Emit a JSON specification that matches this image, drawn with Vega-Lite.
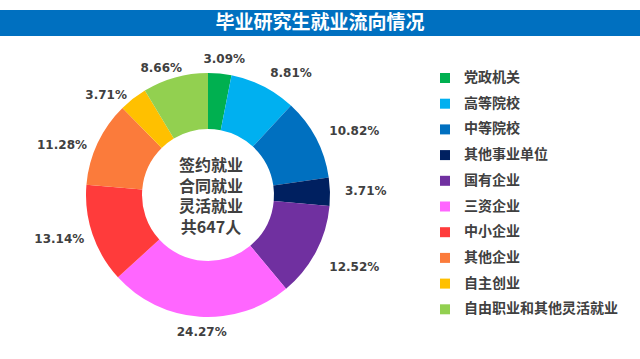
{
  "$schema": "https://vega.github.io/schema/vega-lite/v6.json",
  "padding": {"top": 10, "left": 0, "right": 0, "bottom": 0},
  "background": "white",
  "spacing": 0,
  "config": {"view": {"stroke": null}, "concat": {"spacing": 0}},
  "vconcat": [
    {
      "width": 640,
      "height": 26,
      "view": {"fill": "#0070C0", "stroke": null},
      "data": {"values": [{"t": "毕业研究生就业流向情况"}]},
      "mark": {"type": "text", "color": "white", "font": "Noto Sans CJK SC", "fontWeight": "bold", "fontSize": 19, "baseline": "middle", "align": "center"},
      "encoding": {"text": {"field": "t", "type": "nominal"}}
    },
    {
      "width": 416,
      "height": 318,
      "data": {
        "values": [
          {"idx": 1, "cat": "党政机关", "pct": 3.09, "label": "3.09%"},
          {"idx": 2, "cat": "高等院校", "pct": 8.81, "label": "8.81%"},
          {"idx": 3, "cat": "中等院校", "pct": 10.82, "label": "10.82%"},
          {"idx": 4, "cat": "其他事业单位", "pct": 3.71, "label": "3.71%"},
          {"idx": 5, "cat": "国有企业", "pct": 12.52, "label": "12.52%"},
          {"idx": 6, "cat": "三资企业", "pct": 24.27, "label": "24.27%"},
          {"idx": 7, "cat": "中小企业", "pct": 13.14, "label": "13.14%"},
          {"idx": 8, "cat": "其他企业", "pct": 11.28, "label": "11.28%"},
          {"idx": 9, "cat": "自主创业", "pct": 3.71, "label": "3.71%"},
          {"idx": 10, "cat": "自由职业和其他灵活就业", "pct": 8.66, "label": "8.66%"}
        ]
      },
      "layer": [
        {
          "mark": {"type": "arc", "innerRadius": 66, "outerRadius": 122},
          "encoding": {
            "theta": {"field": "pct", "type": "quantitative", "stack": true},
            "order": {"field": "idx", "type": "quantitative"},
            "color": {
              "field": "cat",
              "type": "nominal",
              "scale": {
                "domain": ["党政机关", "高等院校", "中等院校", "其他事业单位", "国有企业", "三资企业", "中小企业", "其他企业", "自主创业", "自由职业和其他灵活就业"],
                "range": ["#00B050", "#00B0F0", "#0070C0", "#002060", "#7030A0", "#FF66FF", "#FF3B3B", "#FB7B3B", "#FFC000", "#92D050"]
              },
              "legend": {
                "title": null,
                "orient": "none",
                "legendX": 438,
                "legendY": 61,
                "symbolType": "square",
                "symbolSize": 100,
                "symbolStrokeWidth": 0,
                "labelFont": "Noto Sans CJK SC",
                "labelFontWeight": "bold",
                "labelFontSize": 14,
                "labelColor": "#404040",
                "labelOffset": 12,
                "rowPadding": 11.7,
                "padding": 0,
                "labelLimit": 300
              }
            }
          }
        },
        {
          "data": {"values": [{"c": "签约就业\n合同就业\n灵活就业\n共647人"}]},
          "mark": {"type": "text", "lineBreak": "\n", "font": "Noto Sans CJK SC", "fontWeight": "bold", "fontSize": 16, "lineHeight": 20.5, "color": "#404040", "baseline": "middle", "align": "center", "dx": 3, "dy": -29},
          "encoding": {"text": {"field": "c", "type": "nominal"}}
        },
        {
          "mark": {"type": "text", "radius": 137, "font": "DejaVu Sans", "fontWeight": "bold", "fontSize": 12, "color": "#404040", "baseline": "middle", "align": "center", "dx": 3},
          "encoding": {
            "theta": {"field": "pct", "type": "quantitative", "stack": true},
            "order": {"field": "idx", "type": "quantitative"},
            "text": {"field": "label", "type": "nominal"},
            "opacity": {"condition": {"test": "indexof(['党政机关','三资企业'], datum.cat) >= 0", "value": 1}, "value": 0}
          }
        },
        {
          "mark": {"type": "text", "radius": 137, "font": "DejaVu Sans", "fontWeight": "bold", "fontSize": 12, "color": "#404040", "baseline": "middle", "align": "center", "dx": -10, "dy": 5},
          "encoding": {
            "theta": {"field": "pct", "type": "quantitative", "stack": true},
            "order": {"field": "idx", "type": "quantitative"},
            "text": {"field": "label", "type": "nominal"},
            "opacity": {"condition": {"test": "datum.cat === '自由职业和其他灵活就业'", "value": 1}, "value": 0}
          }
        },
        {
          "mark": {"type": "text", "radius": 137, "font": "DejaVu Sans", "fontWeight": "bold", "fontSize": 12, "color": "#404040", "baseline": "middle", "align": "left"},
          "encoding": {
            "theta": {"field": "pct", "type": "quantitative", "stack": true},
            "order": {"field": "idx", "type": "quantitative"},
            "text": {"field": "label", "type": "nominal"},
            "opacity": {"condition": {"test": "indexof(['高等院校','中等院校','其他事业单位'], datum.cat) >= 0", "value": 1}, "value": 0}
          }
        },
        {
          "mark": {"type": "text", "radius": 137, "font": "DejaVu Sans", "fontWeight": "bold", "fontSize": 12, "color": "#404040", "baseline": "middle", "align": "left", "dy": 8},
          "encoding": {
            "theta": {"field": "pct", "type": "quantitative", "stack": true},
            "order": {"field": "idx", "type": "quantitative"},
            "text": {"field": "label", "type": "nominal"},
            "opacity": {"condition": {"test": "datum.cat === '国有企业'", "value": 1}, "value": 0}
          }
        },
        {
          "mark": {"type": "text", "radius": 137, "font": "DejaVu Sans", "fontWeight": "bold", "fontSize": 12, "color": "#404040", "baseline": "middle", "align": "right", "dx": 6},
          "encoding": {
            "theta": {"field": "pct", "type": "quantitative", "stack": true},
            "order": {"field": "idx", "type": "quantitative"},
            "text": {"field": "label", "type": "nominal"},
            "opacity": {"condition": {"test": "datum.cat === '中小企业'", "value": 1}, "value": 0}
          }
        },
        {
          "mark": {"type": "text", "radius": 137, "font": "DejaVu Sans", "fontWeight": "bold", "fontSize": 12, "color": "#404040", "baseline": "middle", "align": "right", "dx": 3, "dy": 8},
          "encoding": {
            "theta": {"field": "pct", "type": "quantitative", "stack": true},
            "order": {"field": "idx", "type": "quantitative"},
            "text": {"field": "label", "type": "nominal"},
            "opacity": {"condition": {"test": "indexof(['其他企业','自主创业'], datum.cat) >= 0", "value": 1}, "value": 0}
          }
        }
      ]
    }
  ]
}
